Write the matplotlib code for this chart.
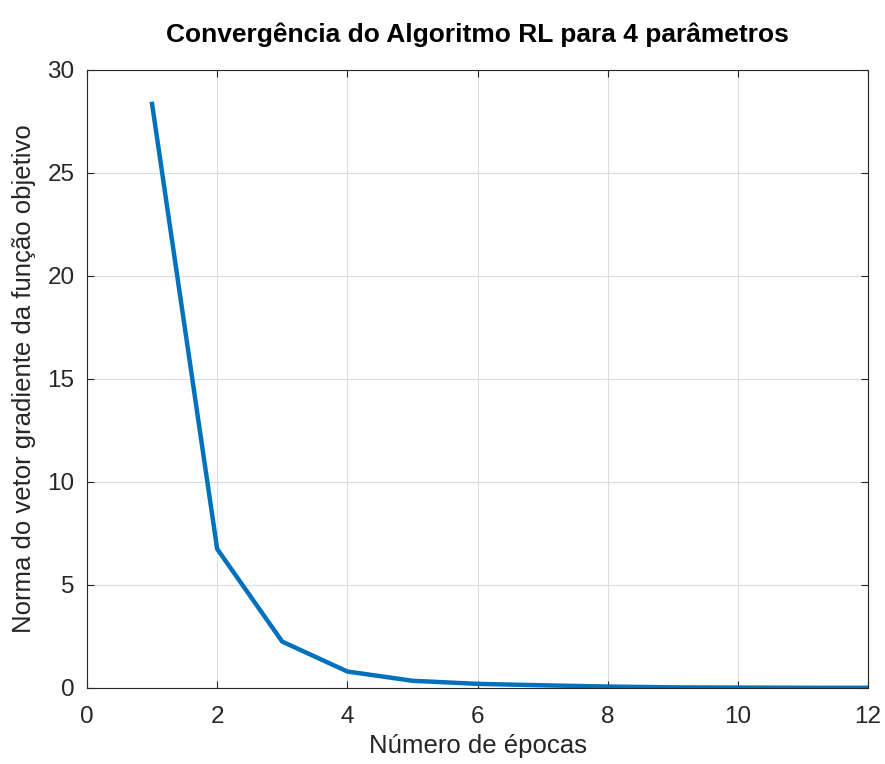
import matplotlib
matplotlib.use('Agg')
import matplotlib.pyplot as plt

epochs = [1, 2, 3, 4, 5, 6, 7, 8, 9, 10, 11, 12]
grad_norm = [28.35, 6.75, 2.25, 0.8, 0.35, 0.2, 0.13, 0.07, 0.03, 0.02, 0.01, 0.01]

plt.rcParams['font.family'] = ['Liberation Sans', 'DejaVu Sans']

fig = plt.figure(figsize=(8.85, 7.64), dpi=100)
ax = fig.add_axes([0.0983, 0.0995, 0.8825, 0.8089])

ax.plot(epochs, grad_norm, color='#0072bd', linewidth=3.2)

ax.set_xlim(0, 12)
ax.set_ylim(0, 30)
ax.set_xticks(range(0, 13, 2))
ax.set_yticks(range(0, 31, 5))
ax.grid(True, color='#dcdcdc', linewidth=0.8)
ax.set_axisbelow(True)
ax.tick_params(direction='in', top=True, right=True, labelsize=17.5,
               colors='#262626', length=5)
ax.tick_params(axis='x', pad=13)
ax.tick_params(axis='y', pad=9)
for s in ax.spines.values():
    s.set_color('#262626')
    s.set_linewidth(0.8)

ax.set_xlabel('Número de épocas', fontsize=18.5, color='#262626', labelpad=4)
ax.set_ylabel('Norma do vetor gradiente da função objetivo', fontsize=18.5,
              color='#262626', labelpad=8)
ax.set_title('Convergência do Algoritmo RL para 4 parâmetros', fontsize=19,
             fontweight='bold', pad=20)

fig.savefig('out.png', dpi=100)
